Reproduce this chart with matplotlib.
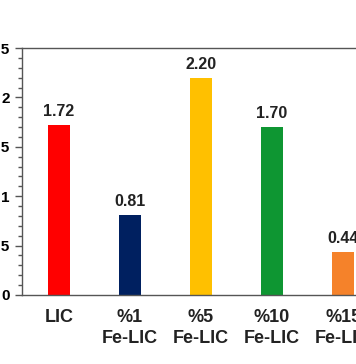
import matplotlib.pyplot as plt
from matplotlib.ticker import MultipleLocator, FuncFormatter

labels = ["LIC", "%1\nFe-LIC", "%5\nFe-LIC", "%10\nFe-LIC", "%15\nFe-LIC"]
values = [1.72, 0.81, 2.20, 1.70, 0.44]
colors = ["#FF0000", "#002060", "#FFC000", "#0E9632", "#F5822A"]

plt.rcParams['font.family'] = ['Liberation Sans', 'DejaVu Sans']
plt.rcParams['font.weight'] = 'bold'

fig = plt.figure(figsize=(3.56, 3.64), dpi=100)
# the reference is a crop: axes run past the left and right edges
ax = fig.add_axes([22 / 356, 69 / 364, 358 / 356, 247 / 364])

x = range(len(values))
ax.bar(x, values, width=0.31, color=colors)
for i, v in enumerate(values):
    ax.text(i, v + 0.06, f"{v:.2f}", ha='center', va='bottom',
            fontsize=11.5, fontweight='bold', color='#222222')

ax.set_xlim(-0.52, 4.52)
ax.set_ylim(0, 2.5)
ax.set_xticks(list(x))
ax.set_xticklabels(labels, fontsize=13, fontweight='bold', linespacing=1.35,
                   color='#222222')
ax.tick_params(axis='x', length=0, pad=10)

ax.yaxis.set_major_locator(MultipleLocator(0.5))
ax.yaxis.set_minor_locator(MultipleLocator(0.1))
ax.yaxis.set_major_formatter(FuncFormatter(lambda v, p: f"{v:g}"))
ax.tick_params(axis='y', which='major', length=5, width=1, color='#555555',
               labelsize=11, pad=4)
ax.tick_params(axis='y', which='minor', length=3, width=1, color='#555555')
for lab in ax.get_yticklabels():
    lab.set_fontweight('bold')

for s in ax.spines.values():
    s.set_color('#555555')
    s.set_linewidth(1)

fig.savefig("out.png", dpi=100)
